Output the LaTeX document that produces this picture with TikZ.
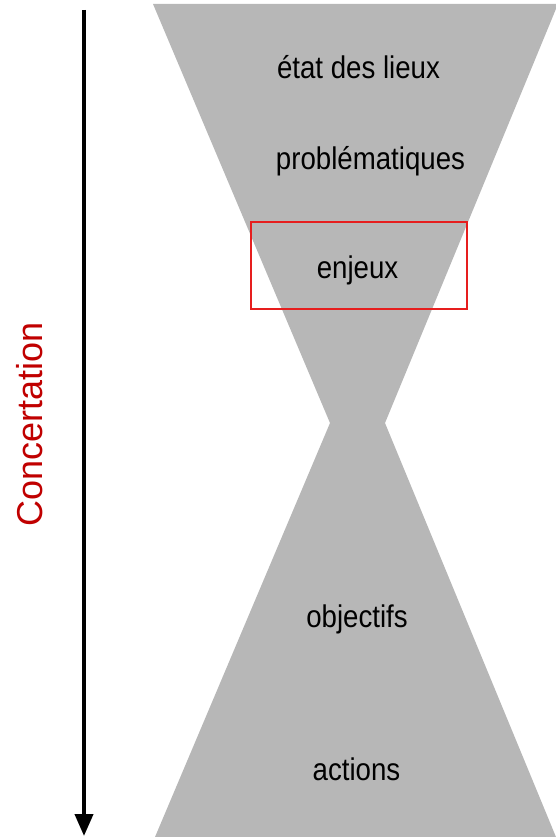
\documentclass[tikz,border=0pt]{standalone}
\usepackage{fontspec}
\setmainfont{Liberation Sans}
\usetikzlibrary{arrows.meta}
\definecolor{hgray}{RGB}{183,183,183}
\definecolor{cred}{RGB}{192,0,0}
\definecolor{boxred}{RGB}{230,30,30}
\newcommand{\tallT}[1]{\scalebox{0.97}[1.1]{#1}}
\tikzset{
  lbl/.style={inner sep=0pt, anchor=base, font=\fontsize{28.5}{30}\selectfont, text=black},
}
\begin{document}
\begin{tikzpicture}[x=1pt,y=-1pt]
\useasboundingbox (0,0) rectangle (556,837);
% hourglass
\fill[hgray] (153,4) -- (558,4) -- (385,423) -- (556,837) -- (155,837) -- (330,423) -- cycle;
% red box
\node[draw=boxred, line width=1.3pt, minimum width=216pt, minimum height=87pt, inner sep=0pt] (box) at (359,265.5) {};
% labels
\node[lbl] (etat) at (358.5,79) {\tallT{état des lieux}};
\node[lbl] (prob) at (370.5,170) {\tallT{problématiques}};
\node[lbl] (enj) at (357.5,278) {\tallT{enjeux}};
\node[lbl] (obj) at (357,627) {\tallT{objectifs}};
\node[lbl] (act) at (356.5,780) {\tallT{actions}};
% arrow
\coordinate (atop) at (84,10);
\coordinate (abot) at (84,836);
\draw[line width=4pt, -{Triangle[width=18pt,length=22pt]}] (atop) -- (abot);
\node[rotate=90, anchor=base, inner sep=0pt, text=cred, font=\fontsize{36}{38}\selectfont] (conc) at (42,424.5) {Concertation};
\end{tikzpicture}
\end{document}
